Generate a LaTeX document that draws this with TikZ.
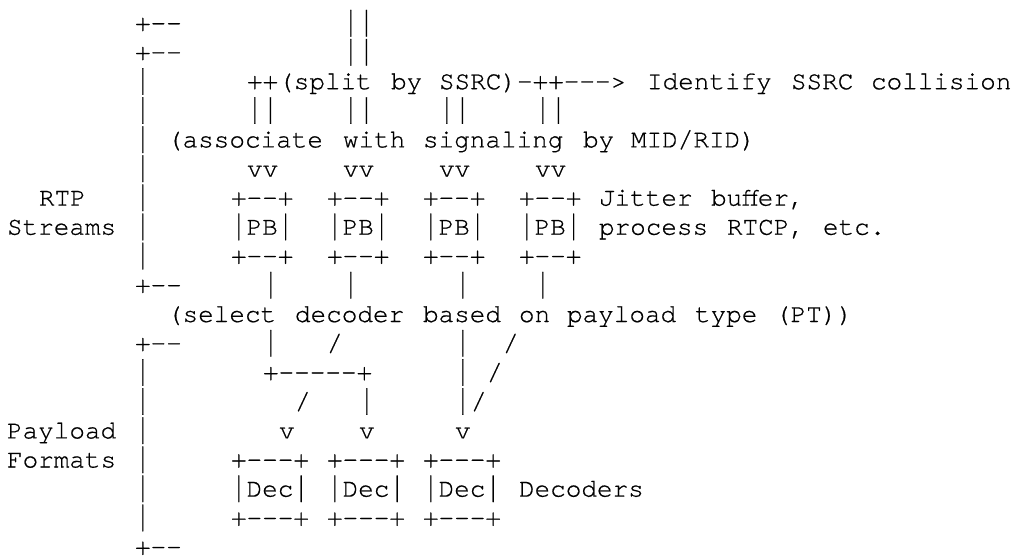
\documentclass[tikz,border=0pt]{standalone}
\usepackage{fontspec}
\setmonofont{texgyrecursor-regular.otf}[FakeBold=0.6]
\tikzset{txt/.style={anchor=base west,inner sep=0pt,outer sep=0pt,text=black,
  font=\ttfamily\fontsize{26}{26}\selectfont}}
\newsavebox\barglyphbox
\newcommand\tb{\sbox\barglyphbox{|}%
  \pgfmathsetmacro\barsc{26.5/(\ht\barglyphbox+\dp\barglyphbox)}%
  \pgfmathsetmacro\barrs{\barsc*\dp\barglyphbox-5.5}%
  \raisebox{\barrs pt}{\scalebox{1}[\barsc]{\usebox\barglyphbox}}}
\newcommand\asc[3]{\node[txt] (r#1c#2) at ({7+16*#2},{31+29.1*#1}) {#3};}
\begin{document}
\begin{tikzpicture}[x=1pt,y=-1pt]
\fill[white] (0,0) rectangle (1018,557);
\useasboundingbox (0,0) rectangle (1018,557);
% row 0-1
\asc{0}{8}{+--}\asc{0}{21}{\tb\tb}
\asc{1}{8}{+--}\asc{1}{21}{\tb\tb}
% row 2
\asc{2}{8}{\tb}\asc{2}{15}{++(split}\asc{2}{24}{by}\asc{2}{27}{SSRC)-++--->}
\asc{2}{40}{Identify}\asc{2}{49}{SSRC}\asc{2}{54}{collision}
% row 3
\asc{3}{8}{\tb}\asc{3}{15}{\tb\tb}\asc{3}{21}{\tb\tb}\asc{3}{27}{\tb\tb}\asc{3}{33}{\tb\tb}
% row 4
\asc{4}{8}{\tb}\asc{4}{10}{(associate}\asc{4}{21}{with}\asc{4}{26}{signaling}
\asc{4}{36}{by}\asc{4}{39}{MID/RID)}
% row 5
\asc{5}{8}{\tb}\asc{5}{15}{vv}\asc{5}{21}{vv}\asc{5}{27}{vv}\asc{5}{33}{vv}
% row 6
\asc{6}{2}{RTP}\asc{6}{8}{\tb}\asc{6}{14}{+--+}\asc{6}{20}{+--+}\asc{6}{26}{+--+}\asc{6}{32}{+--+}
\asc{6}{37}{Jitter}\asc{6}{44}{buffer,}
% row 7
\asc{7}{0}{Streams}\asc{7}{8}{\tb}\asc{7}{14}{\tb PB\tb}\asc{7}{20}{\tb PB\tb}\asc{7}{26}{\tb PB\tb}\asc{7}{32}{\tb PB\tb}
\asc{7}{37}{process}\asc{7}{45}{RTCP,}\asc{7}{51}{etc.}
% row 8
\asc{8}{8}{\tb}\asc{8}{14}{+--+}\asc{8}{20}{+--+}\asc{8}{26}{+--+}\asc{8}{32}{+--+}
% row 9
\asc{9}{8}{+--}\asc{9}{16}{\tb}\asc{9}{21}{\tb}\asc{9}{28}{\tb}\asc{9}{33}{\tb}
% row 10
\asc{10}{10}{(select}\asc{10}{18}{decoder}\asc{10}{26}{based}\asc{10}{32}{on}
\asc{10}{35}{payload}\asc{10}{43}{type}\asc{10}{48}{(PT))}
% row 11
\asc{11}{8}{+--}\asc{11}{16}{\tb}\asc{11}{20}{/}\asc{11}{28}{\tb}\asc{11}{31}{/}
% row 12
\asc{12}{8}{\tb}\asc{12}{16}{+-----+}\asc{12}{28}{\tb}\asc{12}{30}{/}
% row 13
\asc{13}{8}{\tb}\asc{13}{18}{/}\asc{13}{22}{\tb}\asc{13}{28}{\tb}\asc{13}{29}{/}
% row 14
\asc{14}{0}{Payload}\asc{14}{8}{\tb}\asc{14}{17}{v}\asc{14}{22}{v}\asc{14}{28}{v}
% row 15
\asc{15}{0}{Formats}\asc{15}{8}{\tb}\asc{15}{14}{+---+}\asc{15}{20}{+---+}\asc{15}{26}{+---+}
% row 16
\asc{16}{8}{\tb}\asc{16}{14}{\tb Dec\tb}\asc{16}{20}{\tb Dec\tb}\asc{16}{26}{\tb Dec\tb}\asc{16}{32}{Decoders}
% row 17
\asc{17}{8}{\tb}\asc{17}{14}{+---+}\asc{17}{20}{+---+}\asc{17}{26}{+---+}
% row 18
\asc{18}{8}{+--}
\end{tikzpicture}
\end{document}
